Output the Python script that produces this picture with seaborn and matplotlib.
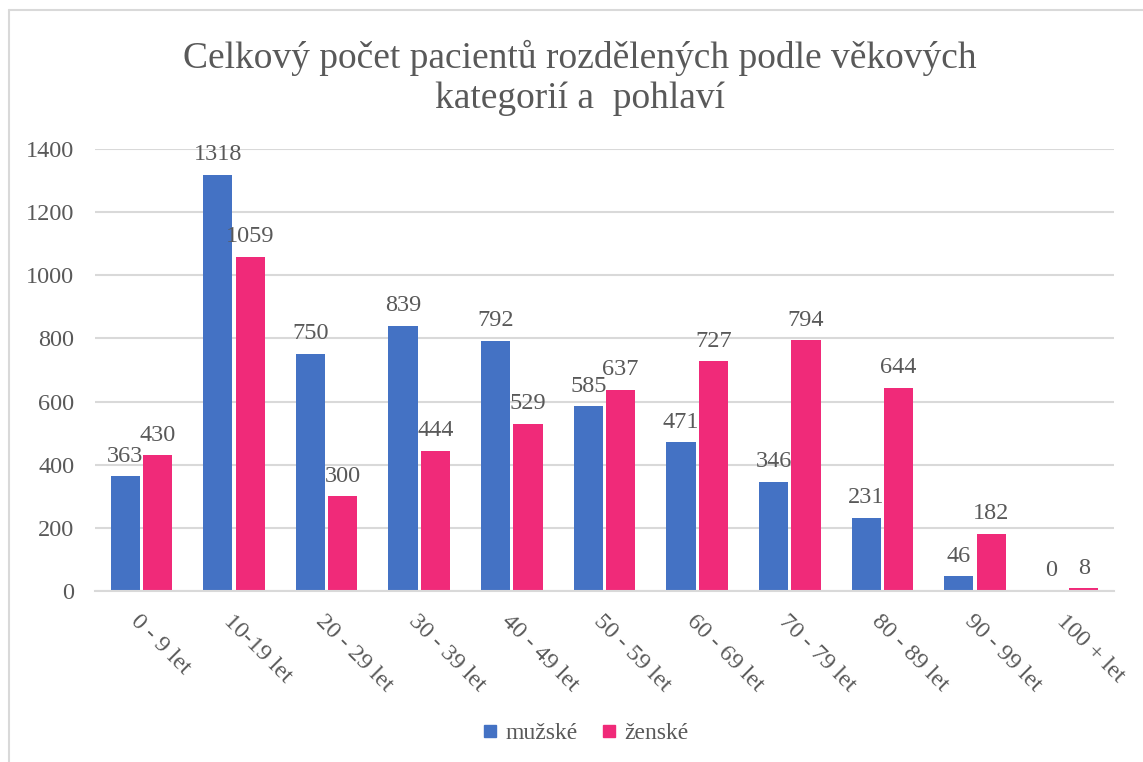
import pandas as pd
import matplotlib.pyplot as plt
import seaborn as sns
from matplotlib.lines import Line2D

categories = ['0 - 9 let', '10-19 let', '20 - 29 let', '30 - 39 let', '40 - 49 let',
              '50 - 59 let', '60 - 69 let', '70 - 79 let', '80 - 89 let', '90 - 99 let',
              '100 + let']
muzske = [363, 1318, 750, 839, 792, 585, 471, 346, 231, 46, 0]
zenske = [430, 1059, 300, 444, 529, 637, 727, 794, 644, 182, 8]
series_names = ['mužské', 'ženské']
colors = ['#4472C4', '#F02A79']
yticks = [0, 200, 400, 600, 800, 1000, 1200, 1400]

df = pd.DataFrame({
    'kategorie': categories * 2,
    'pocet': muzske + zenske,
    'pohlavi': [series_names[0]] * len(categories) + [series_names[1]] * len(categories),
})

sns.set_style('white')
plt.rcParams['font.family'] = ['Liberation Serif', 'DejaVu Serif']
txt = '#595959'
grid_c = '#D9D9D9'

fig = plt.figure(figsize=(11.43, 7.62), dpi=100)
ax = fig.add_axes([95 / 1143, 1 - 591 / 762, (1114 - 95) / 1143, (591 - 149) / 762])

sns.barplot(data=df, x='kategorie', y='pocet', hue='pohlavi',
            palette=colors, width=0.7, gap=0.1, saturation=1, legend=False,
            linewidth=0, order=categories, hue_order=series_names, ax=ax)

for cont in ax.containers:
    ax.bar_label(cont, fmt='%d', padding=7, fontsize=17.5, color=txt)

ax.set_ylim(0, 1400)
ax.set_yticks(yticks)
ax.set_yticklabels([str(v) for v in yticks], fontsize=17.5, color=txt)
ax.yaxis.grid(True, color=grid_c, linewidth=1.5)
ax.set_axisbelow(True)
ax.set_xlim(-0.5, len(categories) - 0.5)
ax.set_xticks(range(len(categories)))
ax.set_xticklabels(categories, rotation=-45, ha='left', va='top',
                   rotation_mode='anchor', fontsize=17.5, color=txt)
ax.tick_params(axis='x', length=0, pad=14)
ax.tick_params(axis='y', length=0, pad=15)
ax.set_xlabel('')
ax.set_ylabel('')
for s in ['top', 'right', 'left']:
    ax.spines[s].set_visible(False)
ax.spines['bottom'].set_color(grid_c)
ax.spines['bottom'].set_linewidth(1.5)

fig.text(0.507, 1 - 78 / 762, 'Celkový počet pacientů rozdělených podle věkových\nkategorií a  pohlaví',
         ha='center', va='center', fontsize=27, color=txt, linespacing=1.2)

# square legend markers like the Excel legend
handles = [Line2D([], [], marker='s', linestyle='', markersize=8, color=c) for c in colors]
ax.legend(handles, series_names, loc='center', bbox_to_anchor=(0.513, 1 - 733 / 762),
          bbox_transform=fig.transFigure, ncol=2, frameon=False, fontsize=17,
          labelcolor=txt, handlelength=0.5, handletextpad=0.4, columnspacing=1.1)

# chart area border (top and left edges visible)
fig.add_artist(Line2D([9 / 1143, 1], [1 - 10 / 762, 1 - 10 / 762], color='#D9D9D9', lw=1.5))
fig.add_artist(Line2D([9 / 1143, 9 / 1143], [0, 1 - 10 / 762], color='#D9D9D9', lw=1.5))

fig.savefig('out.png', dpi=100)
